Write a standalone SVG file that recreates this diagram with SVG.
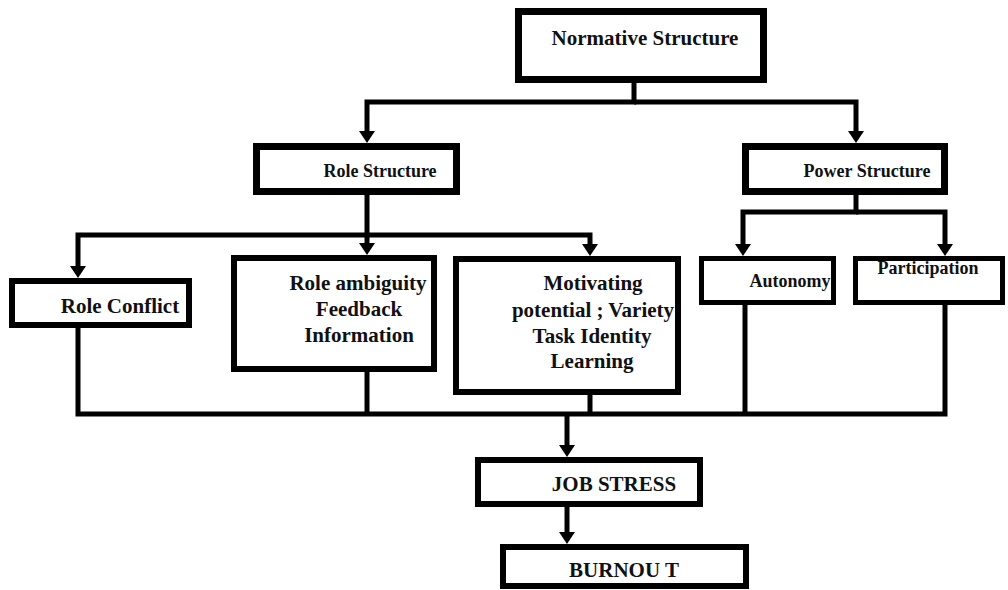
<svg xmlns="http://www.w3.org/2000/svg" width="1008" height="590" viewBox="0 0 1008 590">
<style>
.box{fill:#fff;stroke:#000;stroke-width:6}
.thick{stroke-width:7}
.thin{stroke-width:5}
.lbl{font-family:"Liberation Serif","Times New Roman",serif;font-weight:bold;font-size:21px;fill:#111;text-anchor:middle}
.sm{font-size:18px}
.wire{fill:none;stroke:#000;stroke-width:5;stroke-linejoin:miter}
</style>
<defs>
<marker id="arr" viewBox="0 0 12 16" refX="4" refY="8" markerWidth="12" markerHeight="16" markerUnits="userSpaceOnUse" orient="auto">
<path d="M0,0 L12,8 L0,16 z" fill="#000"/>
</marker>
</defs>
<rect width="1008" height="590" fill="#fff"/>
<g id="connectors">
<path class="wire" d="M634,83 V102 H367 V135" marker-end="url(#arr)"/>
<path class="wire" d="M634,102 H856 V135" marker-end="url(#arr)"/>
<path class="wire" d="M367,195 V235 H78 V270" marker-end="url(#arr)"/>
<path class="wire" d="M367,235 V247" marker-end="url(#arr)"/>
<path class="wire" d="M367,235 H590 V248" marker-end="url(#arr)"/>
<path class="wire" d="M856,195 V212 H743 V248" marker-end="url(#arr)"/>
<path class="wire" d="M856,212 H945 V248" marker-end="url(#arr)"/>
<path class="wire" d="M78,328 V414 H945 V305"/>
<path class="wire" d="M367,372 V414"/>
<path class="wire" d="M590,395 V414"/>
<path class="wire" d="M745,305 V414"/>
<path class="wire" d="M567,414 V449" marker-end="url(#arr)"/>
<path class="wire" d="M567,507 V536" marker-end="url(#arr)"/>
</g>
<g id="normative">
<rect class="box thick" x="518.5" y="11.5" width="245" height="68"/>
<text class="lbl" x="645" y="45">Normative Structure</text>
</g>
<g id="role-structure">
<rect class="box thick" x="256.5" y="146.5" width="200" height="45"/>
<text class="lbl sm" x="380" y="177">Role Structure</text>
</g>
<g id="power-structure">
<rect class="box thick" x="745.5" y="146.5" width="199" height="45"/>
<text class="lbl sm" x="867" y="177">Power Structure</text>
</g>
<g id="role-conflict">
<rect class="box" x="12" y="281" width="177" height="44"/>
<text class="lbl" x="120" y="313">Role Conflict</text>
</g>
<g id="role-ambiguity">
<rect class="box" x="234" y="258" width="200" height="111"/>
<text class="lbl" x="358" y="290">Role ambiguity</text>
<text class="lbl" x="359" y="316">Feedback</text>
<text class="lbl" x="359" y="342">Information</text>
</g>
<g id="motivating">
<rect class="box" x="456" y="259" width="222" height="133"/>
<text class="lbl" x="593" y="290">Motivating</text>
<text class="lbl" x="593" y="317">potential ; Variety</text>
<text class="lbl" x="592" y="343">Task Identity</text>
<text class="lbl" x="592" y="368">Learning</text>
</g>
<g id="autonomy">
<rect class="box thin" x="701.5" y="258.5" width="132" height="44"/>
<text class="lbl sm" x="790" y="287">Autonomy</text>
</g>
<g id="participation">
<rect class="box thin" x="855.5" y="258.5" width="147" height="44"/>
<text class="lbl sm" x="928" y="274">Participation</text>
</g>
<g id="job-stress">
<rect class="box" x="478" y="460" width="222" height="44"/>
<text class="lbl" x="614" y="491">JOB STRESS</text>
</g>
<g id="burnout">
<rect class="box" x="503" y="547" width="243" height="39"/>
<text class="lbl" x="624" y="577">BURNOU T</text>
</g>
</svg>
